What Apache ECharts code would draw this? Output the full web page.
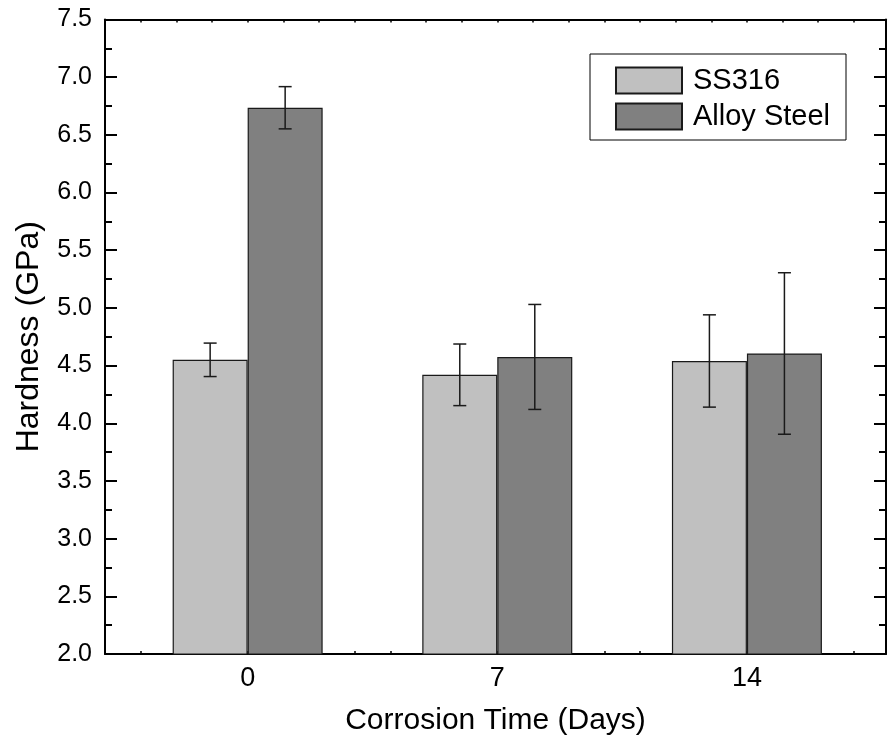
<!DOCTYPE html>
<html>
<head>
<meta charset="utf-8">
<script src="https://cdn.jsdelivr.net/npm/echarts@6/dist/echarts.min.js"></script>
<style>html,body{margin:0;padding:0;background:#fff}#c{width:889px;height:747px}</style>
</head>
<body>
<div id="c"></div>
<script>
const days = [0, 7, 14];
const xTickLabels = ['0', '7', '14'];
const seriesNames = ['SS316', 'Alloy Steel'];
const ss316 = [4.55, 4.42, 4.54];
const ss316Err = [0.145, 0.267, 0.40];
const alloy = [6.735, 4.575, 4.605];
const alloyErr = [0.183, 0.455, 0.70];

const FONT = 'Liberation Sans, Arial, sans-serif';
const BAR_W = 75;
const CAP = 6.5;

function errSeries(name, vals, errs, side) {
  return {
    type: 'custom',
    name: name + ' err',
    xAxisIndex: 0, yAxisIndex: 0,
    z: 5,
    encode: { x: 0, y: [1, 2] },
    data: days.map((d, i) => [d, vals[i] - errs[i], vals[i] + errs[i]]),
    renderItem: function (params, api) {
      const lo = api.coord([api.value(0), api.value(1)]);
      const hi = api.coord([api.value(0), api.value(2)]);
      const x = lo[0] + side * BAR_W / 2;
      const st = { stroke: '#1a1a1a', lineWidth: 1.5 };
      return {
        type: 'group',
        children: [
          { type: 'line', shape: { x1: x, y1: lo[1], x2: x, y2: hi[1] }, style: st },
          { type: 'line', shape: { x1: x - CAP, y1: lo[1], x2: x + CAP, y2: lo[1] }, style: st },
          { type: 'line', shape: { x1: x - CAP, y1: hi[1], x2: x + CAP, y2: hi[1] }, style: st }
        ]
      };
    },
    silent: true
  };
}

const chart = echarts.init(document.getElementById('c'));
chart.setOption({
  animation: false,
  backgroundColor: '#fff',
  textStyle: { fontFamily: FONT },
  grid: { left: 105, right: 3, top: 19.5, bottom: 93, containLabel: false },
  legend: {
    orient: 'vertical',
    left: 590, top: 54,
    padding: [12, 16, 9, 25],
    itemWidth: 66, itemHeight: 26, itemGap: 7,
    borderColor: '#000', borderWidth: 1,
    backgroundColor: '#fff',
    icon: 'rect',
    data: seriesNames,
    textStyle: { fontFamily: FONT, fontSize: 29, color: '#000', padding: [0, 0, 0, 6] }
  },
  xAxis: [{
    type: 'value', position: 'bottom', min: -4, max: 17.9, interval: 1,
    name: 'Corrosion Time (Days)', nameLocation: 'middle', nameGap: 52,
    nameTextStyle: { fontFamily: FONT, fontSize: 30, color: '#000' },
    axisLine: { onZero: false, lineStyle: { color: '#000', width: 2 } },
    axisTick: { inside: true, length: 3, lineStyle: { color: '#000', width: 1.5 } },
    axisLabel: {
      margin: 11, fontFamily: FONT, fontSize: 27, color: '#000',
      showMinLabel: true, showMaxLabel: false,
      formatter: v => { const k = days.indexOf(v); return k >= 0 ? xTickLabels[k] : ''; }
    },
    splitLine: { show: false }
  }, {
    type: 'value', position: 'top', min: -4, max: 17.9, interval: 1,
    axisLine: { onZero: false, lineStyle: { color: '#000', width: 2 } },
    axisTick: { inside: true, length: 3, lineStyle: { color: '#000', width: 1.5 } },
    axisLabel: { show: false },
    splitLine: { show: false }
  }],
  yAxis: [{
    type: 'value', position: 'left', min: 2, max: 7.5, interval: 0.5,
    name: 'Hardness (GPa)', nameLocation: 'middle', nameGap: 60,
    nameTextStyle: { fontFamily: FONT, fontSize: 32, color: '#000' },
    axisLine: { onZero: false, lineStyle: { color: '#000', width: 2 } },
    axisTick: { inside: true, length: 12, lineStyle: { color: '#000', width: 2 } },
    minorTick: { show: true, splitNumber: 2, length: 7, lineStyle: { color: '#000', width: 2 } },
    axisLabel: { margin: 13, fontFamily: FONT, fontSize: 25, color: '#000', formatter: v => v.toFixed(1) },
    splitLine: { show: false }
  }, {
    type: 'value', position: 'right', min: 2, max: 7.5, interval: 0.5,
    axisLine: { onZero: false, lineStyle: { color: '#000', width: 2 } },
    axisTick: { inside: true, length: 12, lineStyle: { color: '#000', width: 2 } },
    minorTick: { show: true, splitNumber: 2, length: 7, lineStyle: { color: '#000', width: 2 } },
    axisLabel: { show: false },
    splitLine: { show: false }
  }],
  series: [
    {
      type: 'bar', name: seriesNames[0], xAxisIndex: 0, yAxisIndex: 0,
      barWidth: BAR_W, barGap: '0%', z: 3,
      itemStyle: { color: '#c0c0c0', borderColor: '#1a1a1a', borderWidth: 1.2 },
      data: days.map((d, i) => [d, ss316[i]])
    },
    {
      type: 'bar', name: seriesNames[1], xAxisIndex: 0, yAxisIndex: 0,
      barWidth: BAR_W, barGap: '0%', z: 3,
      itemStyle: { color: '#808080', borderColor: '#1a1a1a', borderWidth: 1.2 },
      data: days.map((d, i) => [d, alloy[i]])
    },
    errSeries(seriesNames[0], ss316, ss316Err, -1),
    errSeries(seriesNames[1], alloy, alloyErr, 1)
  ]
});
</script>
</body>
</html>
